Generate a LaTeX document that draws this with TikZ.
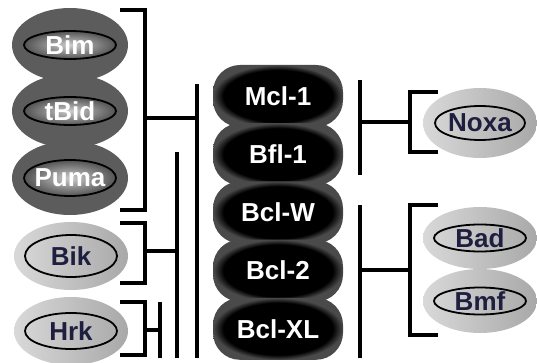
\documentclass[tikz,border=0pt]{standalone}
\usepackage{fontspec}
\setmainfont{Liberation Sans}
\usetikzlibrary{positioning, shapes.geometric}
\definecolor{rimgray}{RGB}{92,92,92}
\definecolor{inkblue}{RGB}{30,30,62}
\colorlet{blobrim}{gray!58!black}
\pgfdeclareradialshading{blobglow}{\pgfpoint{0bp}{0bp}}{color(0bp)=(black); color(21bp)=(black); color(25bp)=(blobrim); color(50bp)=(blobrim)}

\begin{document}
\begin{tikzpicture}[x=1pt, y=-1pt, on grid,
  lbl/.style={font=\bfseries\fontsize{26}{28}\selectfont},
  darkout/.style={ellipse, fill=rimgray, minimum width=116pt, minimum height=74pt, inner sep=0pt},
  darkin/.style={ellipse, draw=black, line width=1.8pt, inner color=gray!40, outer color=gray!65!black, minimum width=92pt, minimum height=28pt, inner sep=0pt, inner xsep=-6pt, text=white, lbl},
  lightout/.style={ellipse, left color=gray!30, middle color=gray!3, right color=gray!68, minimum width=114pt, minimum height=68pt, inner sep=0pt},
  lightin/.style={ellipse, draw=black, line width=1.8pt, minimum width=92pt, minimum height=36pt, inner sep=0pt, inner xsep=-6pt, text=inkblue, lbl},
  blob/.style={rectangle, rounded corners=27pt, shade, shading=blobglow, minimum width=130pt, minimum height=62pt, text=white, lbl},
  bar/.style={line width=4.5pt}
]
  \useasboundingbox (0,0) rectangle (537,363);

  % activators, dark group
  \node[darkout] (bimo) at (70,45) {};
  \node[darkout, below=66pt of bimo] (tbido) {};
  \node[darkout, below=67pt of tbido] (pumao) {};
  \node[darkin] (bim) at (bimo) {Bim};
  \node[darkin] (tbid) at (tbido) {tBid};
  \node[darkin, minimum height=36pt] (puma) at (pumao) {Puma};

  % sensitizers, left
  \node[lightout] (biko) at (71,256) {};
  \node[lightout, below=75pt of biko] (hrko) {};
  \node[lightin, minimum height=42pt] (bik) at (biko) {Bik};
  \node[lightin] (hrk) at (hrko) {Hrk};

  % anti-apoptotic column
  \node[blob] (mcl) at (278,96) {Mcl-1};
  \node[blob, below=58.2pt of mcl] (bfl) {Bfl-1};
  \node[blob, below=58.2pt of bfl] (bclw) {Bcl-W};
  \node[blob, below=58.2pt of bclw] (bcltwo) {Bcl-2};
  \node[blob, below=58.2pt of bcltwo] (bclxl) {Bcl-XL};

  % sensitizers, right
  \node[lightout, minimum height=70pt] (noxo) at (480,123) {};
  \node[lightin, minimum width=90pt, minimum height=34pt] (noxa) at (noxo) {Noxa};
  \node[lightout, minimum height=62pt] (bado) at (480,238) {};
  \node[lightout, minimum height=64pt, below=63pt of bado] (bmfo) {};
  \node[lightin, minimum height=27pt] (bad) at (bado) {Bad};
  \node[lightin, minimum height=27pt] (bmf) at (bmfo) {Bmf};

  % bracket points
  \coordinate (floor) at (0,358);
  \coordinate (bimtip) at (120,10);
  \coordinate (probar) at (145,10);
  \coordinate (pumatip) at (120,210);
  \coordinate (projoin) at (145,118);
  \coordinate (allbar) at (197,84);
  \coordinate (bikbar) at (177,152);
  \coordinate (biktip) at (120,223);
  \coordinate (bikcorner) at (145,223);
  \coordinate (bikend) at (120,283);
  \coordinate (bikjoin) at (145,251);
  \coordinate (hrktip) at (120,302);
  \coordinate (hrkcorner) at (145,302);
  \coordinate (hrkend) at (120,355);
  \coordinate (hrkjoin) at (145,330);
  \coordinate (hrkbar) at (160,302);
  \coordinate (mclbar) at (360,80);
  \coordinate (bflbar) at (360,175);
  \coordinate (noxjoin) at (360,122);
  \coordinate (noxtip) at (438,92);
  \coordinate (noxbar) at (410,92);
  \coordinate (noxend) at (438,152);
  \coordinate (bclbar) at (360,205);
  \coordinate (badjoin) at (360,270);
  \coordinate (badtip) at (438,205);
  \coordinate (badbar) at (410,205);
  \coordinate (bmfend) at (438,335);

  % left side
  \draw[bar] (bimtip) -- (probar) |- (pumatip);
  \draw[bar] (projoin) -- (projoin -| allbar);
  \draw[bar] (allbar) -- (allbar |- floor);
  \draw[bar] (bikbar) -- (bikbar |- floor);
  \draw[bar] (biktip) -- (bikcorner) |- (bikend);
  \draw[bar] (bikjoin) -- (bikjoin -| bikbar);
  \draw[bar] (hrktip) -- (hrkcorner) |- (hrkend);
  \draw[bar] (hrkjoin) -- (hrkjoin -| hrkbar);
  \draw[bar] (hrkbar) -- (hrkbar |- floor);

  % right side
  \draw[bar] (mclbar) -- (bflbar);
  \draw[bar] (noxjoin) -- (noxjoin -| noxbar);
  \draw[bar] (noxtip) -- (noxbar) |- (noxend);
  \draw[bar] (bclbar) -- (bclbar |- floor);
  \draw[bar] (badjoin) -- (badjoin -| badbar);
  \draw[bar] (badtip) -- (badbar) |- (bmfend);
\end{tikzpicture}
\end{document}
